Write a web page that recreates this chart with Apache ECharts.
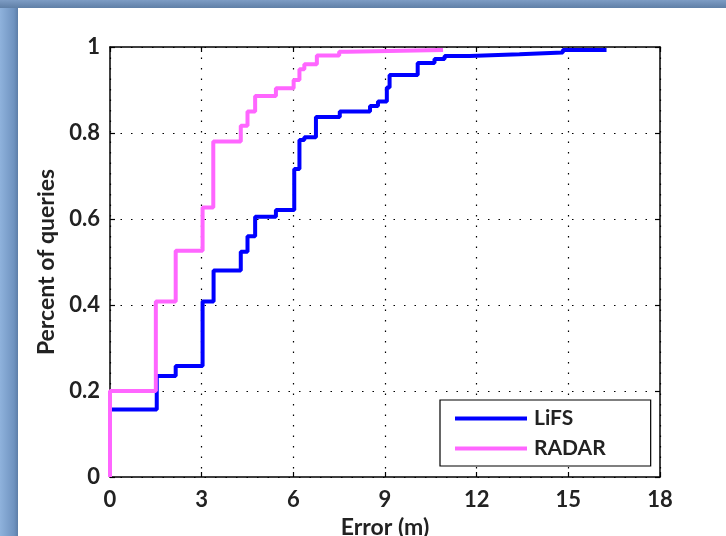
<!DOCTYPE html>
<html>
<head>
<meta charset="utf-8">
<script src="https://cdn.jsdelivr.net/npm/echarts@6/dist/echarts.min.js"></script>
<style>
  html, body {
    margin: 0;
    padding: 0;
    width: 726px;
    height: 536px;
    overflow: hidden;
    background: linear-gradient(90deg, #8fb2dc 0px, #6f93c0 14px, #5d7ea8 18px);
  }
  .top-band {
    position: absolute;
    left: 0;
    top: 0;
    width: 726px;
    height: 8px;
    background: linear-gradient(180deg, #7d9cc4 0px, #5f7fa6 8px);
  }
  #main {
    position: absolute;
    left: 18px;
    top: 8px;
    width: 708px;
    height: 528px;
    background: #ffffff;
  }
</style>
</head>
<body>
<div class="top-band"></div>
<div id="main"></div>
<script>
// 误差 (m) 及累计比例，读自原图
const lifsX = [0, 0, 1.53, 2.15, 3.03, 3.39, 4.28, 4.5, 4.75, 5.43, 6.03, 6.2, 6.36, 6.74, 7.52, 8.51, 8.77, 9.06, 9.15, 10.07, 10.62, 10.95, 11.77, 13.4, 14.82, 16.25];
const lifsY = [0, 0.157, 0.235, 0.258, 0.408, 0.48, 0.524, 0.56, 0.605, 0.621, 0.716, 0.784, 0.79, 0.837, 0.85, 0.863, 0.873, 0.906, 0.935, 0.963, 0.972, 0.979, 0.983, 0.987, 0.993, 0.993];

const radarX = [0, 0, 1.5, 2.15, 3.03, 3.38, 4.28, 4.5, 4.75, 5.43, 6.01, 6.2, 6.36, 6.77, 7.5, 7.77, 10.9];
const radarY = [0, 0.2, 0.408, 0.526, 0.627, 0.78, 0.817, 0.85, 0.886, 0.904, 0.923, 0.948, 0.96, 0.98, 0.989, 0.993, 0.993];

const xTicks = [0, 3, 6, 9, 12, 15, 18];
const yTicks = [0, 0.2, 0.4, 0.6, 0.8, 1];

const seriesNames = ['LiFS', 'RADAR'];
const seriesColors = ['#0000ff', '#ff66ff'];

const toPairs = (xs, ys) => xs.map((x, i) => [x, ys[i]]);

const labelFont = {
  fontFamily: 'Lato',
  fontWeight: 'bold',
  fontSize: 22,
  color: '#222222',
};

const gridDots = {
  show: true,
  lineStyle: { color: '#000000', width: 1.2, type: [1.5, 9] },
};

const chart = echarts.init(document.getElementById('main'));

const option = {
  animation: false,
  // outerBoundsMode none: 不让坐标轴名称挤压绘图区
  grid: { left: 92, top: 39, right: 66, bottom: 59, outerBoundsMode: 'none' },
  legend: {
    data: seriesNames,
    orient: 'vertical',
    left: 422,
    top: 392,
    icon: 'rect',
    itemWidth: 72,
    itemHeight: 4,
    itemGap: 9,
    padding: [8, 45, 7, 15],
    backgroundColor: '#ffffff',
    borderColor: '#000000',
    borderWidth: 1.2,
    textStyle: {
      fontFamily: 'Lato',
      fontWeight: 'bold',
      fontSize: 21,
      color: '#222222',
      padding: [0, 0, 0, 2],
    },
  },
  xAxis: [
    {
      type: 'value',
      min: 0,
      max: 18,
      interval: 3,
      name: 'Error (m)',
      nameLocation: 'middle',
      nameGap: 38,
      nameTextStyle: { ...labelFont, fontSize: 23 },
      axisLine: { show: true, onZero: false, lineStyle: { color: '#000000', width: 1.5 } },
      axisTick: { show: true, inside: true, length: 5, lineStyle: { color: '#000000', width: 1.2 } },
      axisLabel: { ...labelFont, margin: 12, formatter: v => (xTicks.includes(v) ? String(v) : '') },
      splitLine: gridDots,
    },
    {
      type: 'value',
      position: 'top',
      min: 0,
      max: 18,
      interval: 3,
      axisLine: { show: true, onZero: false, lineStyle: { color: '#000000', width: 1.5 } },
      axisTick: { show: true, inside: true, length: 5, lineStyle: { color: '#000000', width: 1.2 } },
      axisLabel: { show: false },
      splitLine: { show: false },
    },
  ],
  yAxis: [
    {
      type: 'value',
      min: 0,
      max: 1,
      interval: 0.2,
      name: 'Percent of queries',
      nameLocation: 'middle',
      nameGap: 51,
      nameRotate: 90,
      nameTextStyle: { ...labelFont, fontSize: 23 },
      axisLine: { show: true, onZero: false, lineStyle: { color: '#000000', width: 1.5 } },
      axisTick: { show: true, inside: true, length: 5, lineStyle: { color: '#000000', width: 1.2 } },
      axisLabel: {
        ...labelFont,
        margin: 10,
        formatter: v => {
          const t = yTicks.find(k => Math.abs(k - v) < 1e-6);
          return t === undefined ? '' : String(t);
        },
      },
      splitLine: gridDots,
    },
    {
      type: 'value',
      position: 'right',
      min: 0,
      max: 1,
      interval: 0.2,
      axisLine: { show: true, onZero: false, lineStyle: { color: '#000000', width: 1.5 } },
      axisTick: { show: true, inside: true, length: 5, lineStyle: { color: '#000000', width: 1.2 } },
      axisLabel: { show: false },
      splitLine: { show: false },
    },
  ],
  series: [
    {
      name: seriesNames[0],
      type: 'line',
      step: 'end',
      showSymbol: false,
      data: toPairs(lifsX, lifsY),
      color: seriesColors[0],
      lineStyle: { color: seriesColors[0], width: 4 },
      z: 3,
    },
    {
      name: seriesNames[1],
      type: 'line',
      step: 'end',
      showSymbol: false,
      data: toPairs(radarX, radarY),
      color: seriesColors[1],
      lineStyle: { color: seriesColors[1], width: 4 },
      z: 4,
    },
  ],
};

chart.setOption(option);
</script>
</body>
</html>
